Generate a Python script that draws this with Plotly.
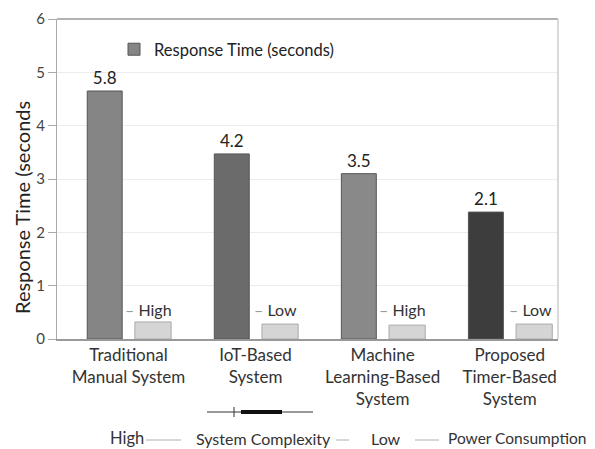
import plotly.graph_objects as go

categories = ["Traditional Manual System", "IoT-Based System",
              "Machine Learning-Based System", "Proposed Timer-Based System"]
tick_labels = ["Traditional<br>Manual System", "IoT-Based<br>System",
               "Machine<br>Learning-Based<br>System", "Proposed<br>Timer-Based<br>System"]
response_bar = [4.65, 3.47, 3.10, 2.38]
response_labels = ["5.8", "4.2", "3.5", "2.1"]
power_bar = [0.32, 0.28, 0.26, 0.28]
complexity_labels = ["High", "Low", "High", "Low"]
bottom_row = ["High", "System Complexity", "Low", "Power Consumption"]

dark_colors = ["#858585", "#6b6b6b", "#898989", "#3d3d3d"]
FONT = "Lato, 'Open Sans', sans-serif"

# page offset of the figure (default body margin)
OFF = 8
# plot-area pixel geometry (page coordinates)
L, R, T, B = 57, 558, 19, 339
W, H = R - L, B - T
def px(x):
    return (x - L) / W
def py(y):
    return (B - y) / H

idx = list(range(len(categories)))

fig = go.Figure()
fig.add_trace(go.Bar(
    x=idx, y=response_bar, name="Response Time (seconds)",
    marker=dict(color=dark_colors, line=dict(color="#555555", width=1)),
    width=0.275, offset=-0.325,
    text=response_labels, textposition="outside",
    textfont=dict(size=17, color="#222222", family=FONT),
    cliponaxis=False, showlegend=True,
))
fig.add_trace(go.Bar(
    x=idx, y=power_bar, name="Power Consumption",
    marker=dict(color="#d5d5d5", line=dict(color="#aaaaaa", width=1)),
    width=0.285, offset=0.05, showlegend=False,
))

annotations = []
for i, lab in enumerate(complexity_labels):
    annotations.append(dict(
        x=i + 0.16, y=0.56, xref="x", yref="y", xanchor="center", yanchor="middle",
        text="<span style='color:#9a9a9a'>– </span>" + lab,
        showarrow=False, font=dict(size=16, color="#333333", family=FONT),
    ))

# y-axis title (as shown)
annotations.append(dict(
    x=px(22), y=py(208), xref="paper", yref="paper", xanchor="center", yanchor="middle",
    text="Response Time (seconds", textangle=-90, showarrow=False,
    font=dict(size=20, color="#222222", family=FONT),
))

# bottom row text
row_y = py(438)
row_pos = [(127, "center", 16.5), (263, "center", 16), (386, "center", 16), (446, "left", 15.5)]
for (xp, anc, fs), t in zip(row_pos, bottom_row):
    annotations.append(dict(
        x=px(xp), y=row_y, xref="paper", yref="paper", xanchor=anc, yanchor="middle",
        text=t, showarrow=False, font=dict(size=fs, color="#333333", family=FONT),
    ))

shapes = [
    dict(type="line", xref="paper", yref="paper", x0=0, x1=1, y0=1, y1=1,
         line=dict(color="#999999", width=1.5)),
    dict(type="line", xref="paper", yref="paper", x0=1, x1=1, y0=0, y1=1,
         line=dict(color="#cccccc", width=1.5)),
    # decorative scale line under tick labels
    dict(type="line", xref="paper", yref="paper", x0=px(207), x1=px(313),
         y0=py(412), y1=py(412), line=dict(color="#333333", width=1)),
    dict(type="line", xref="paper", yref="paper", x0=px(241), x1=px(282),
         y0=py(412), y1=py(412), line=dict(color="#111111", width=4)),
    dict(type="line", xref="paper", yref="paper", x0=px(234), x1=px(234),
         y0=py(407), y1=py(417), line=dict(color="#333333", width=1)),
]
for a, b in [(146, 181), (336, 349), (415, 439)]:
    shapes.append(dict(type="line", xref="paper", yref="paper", x0=px(a), x1=px(b),
                       y0=py(440), y1=py(440), line=dict(color="#b0b0b0", width=1)))

fig.update_layout(
    width=595 - OFF, height=449 - OFF,
    margin=dict(l=L - OFF, r=595 - R, t=T - OFF, b=449 - B, autoexpand=False),
    paper_bgcolor="white", plot_bgcolor="white",
    font=dict(family=FONT, color="#333333"),
    barmode="overlay",
    xaxis=dict(
        range=[-0.563, 3.38], tickmode="array", tickvals=idx, ticktext=tick_labels,
        tickfont=dict(size=17, color="#333333"), showline=True, linecolor="#999999",
        linewidth=1.5, showgrid=False, ticks="", zeroline=False,
    ),
    yaxis=dict(
        range=[0, 6], dtick=1, tickfont=dict(size=15, color="#444444"),
        showline=True, linecolor="#aaaaaa", ticks="outside", ticklen=8,
        tickcolor="#aaaaaa", gridcolor="#ececec", zeroline=False,
    ),
    legend=dict(x=px(114), y=py(32), xanchor="left", yanchor="top",
                font=dict(size=16.5, color="#222222"), bgcolor="rgba(0,0,0,0)"),
    annotations=annotations, shapes=shapes,
)

fig.write_html("out.html")
